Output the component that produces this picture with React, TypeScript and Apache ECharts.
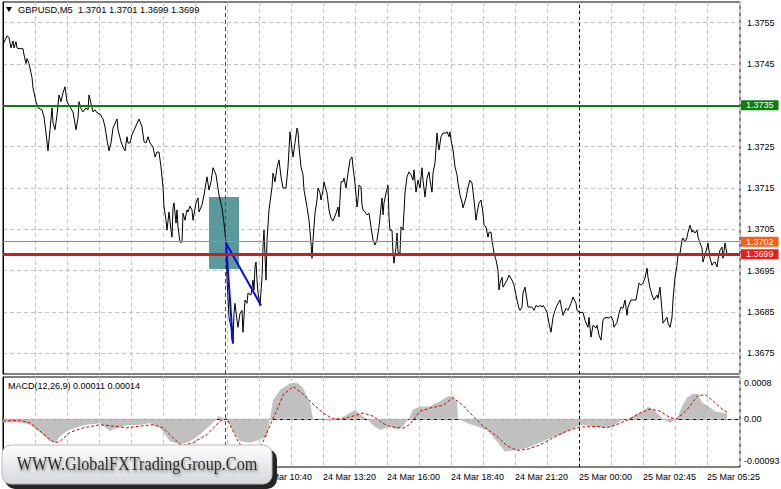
import React, { useEffect, useRef } from "react";
import * as echarts from "echarts";

const FONT = 'Tahoma, "Liberation Sans", Arial, sans-serif';

const symbolTitle = "GBPUSD,M5  1.3701 1.3701 1.3699 1.3699";
const macdTitle = "MACD(12,26,9) 0.00011 0.00014";
const logoText = "WWW.GlobalFXTradingGroup.Com";

const timeLabels = [
  "24 Mar 00:00", "24 Mar 02:40", "24 Mar 05:20", "24 Mar 08:00",
  "24 Mar 10:40", "24 Mar 13:20", "24 Mar 16:00", "24 Mar 18:40",
  "24 Mar 21:20", "25 Mar 00:00", "25 Mar 02:45", "25 Mar 05:25",
];
const barsPerLabel = 32;
const barsPerGrid = 16;
const barMax = 368.5;

const priceMin = 1.367;
const priceMax = 1.376;
const priceStep = 0.0005;

const macdMin = -0.00107;
const macdMax = 0.00093;
const macdTickValues = [0.0008, 0, -0.00093];
const macdTickLabels = ["0.0008", "0.00", "-0.00093"];

const resistanceLevel = 1.3735;
const askLevel = 1.3702;
const bidLevel = 1.3699;
const entryBar = 111;
const dayBreakBar = 288;
const zoneBox = [[103, 1.37128], [118, 1.36954]];
const moveLines = [[115, 1.36774], [111.5, 1.37017], [129, 1.36866]];

const priceData = [
  [0,1.37497],[2,1.37518],[3,1.37514],[4,1.37489],[5,1.37506],[5.5,1.37489],[6.5,1.37504],[7,1.37489],[8,1.37487],[10,1.37487],
  [10.5,1.37472],[11.5,1.37451],[12,1.37463],[13,1.37451],[14.5,1.37417],[15,1.37392],[16.5,1.37359],[17.5,1.37344],[19.5,1.37339],[20.5,1.37322],
  [21.5,1.37283],[22.5,1.3724],[23.5,1.37291],[24.5,1.37344],[25,1.37308],[26,1.37291],[27,1.37327],[28,1.37375],[29,1.37359],[30,1.3738],
  [31,1.37395],[32,1.37359],[33.5,1.37346],[35,1.37334],[36.5,1.37291],[37.5,1.3732],[38,1.37359],[39,1.37342],[40,1.37334],[41.5,1.37344],
  [42.5,1.37339],[43,1.37375],[45,1.37334],[46,1.37339],[47,1.37332],[48.5,1.37329],[50,1.37317],[51,1.37298],[52,1.37266],[53,1.3724],
  [54,1.37259],[55,1.37295],[57,1.37317],[57.5,1.37291],[59,1.37262],[60,1.37249],[61,1.3724],[62,1.37274],[62.5,1.37259],[63.5,1.37259],
  [64.5,1.37279],[66,1.37295],[68,1.37317],[69.5,1.37298],[70.5,1.37262],[71.5,1.37259],[72.5,1.37274],[73.5,1.37259],[75,1.37249],[76,1.37225],
  [77,1.37237],[78,1.37237],[79,1.37201],[80,1.37152],[80.5,1.37104],[81.5,1.37072],[82,1.37048],[83,1.37092],[84,1.37048],[84.5,1.37031],
  [85,1.37102],[85.5,1.37114],[86.5,1.37065],[87,1.37097],[87.5,1.37056],[88.5,1.37019],[89.5,1.37019],[90,1.37089],[91,1.37072],[92,1.37097],
  [92.5,1.37092],[93.5,1.37106],[94.5,1.37097],[95,1.37072],[96.5,1.37114],[97.5,1.37126],[98,1.37092],[99.5,1.37109],[100.5,1.37133],[102,1.37177],
  [103,1.37145],[104,1.37165],[105,1.37199],[106.5,1.37182],[107,1.37165],[108,1.37133],[109.5,1.37102],[110.5,1.37065],[111.5,1.37017],[112,1.36927],
  [112.5,1.36886],[113,1.36837],[114,1.36813],[114.5,1.36782],[115,1.36774],[115.5,1.36847],[116,1.36871],[117,1.3683],[117.5,1.36813],[118.5,1.36847],
  [119.5,1.36854],[120,1.36801],[121,1.36879],[122,1.36871],[122.5,1.36896],[124,1.36891],[125,1.36927],[125.5,1.36903],[126,1.36959],[126.5,1.36971],
  [127,1.36927],[127.5,1.36896],[128.5,1.36866],[129.5,1.36934],[130,1.37007],[130.5,1.37048],[131.5,1.36927],[132,1.37024],[133,1.37097],[134.5,1.37152],
  [135,1.37186],[136,1.37165],[137,1.37199],[138,1.37218],[139,1.37177],[140,1.3715],[141.5,1.3715],[142.5,1.37201],[143.5,1.37286],[144.5,1.37242],
  [145,1.37225],[146,1.37259],[147,1.37295],[147.5,1.37286],[148,1.37249],[149,1.37201],[150,1.37182],[150.5,1.37145],[152,1.37104],[153,1.37072],
  [154,1.37017],[154.5,1.3698],[155,1.37024],[156,1.37089],[157,1.37121],[157.5,1.3715],[158.5,1.37138],[159,1.37121],[160,1.37145],[160.5,1.37165],
  [161.5,1.37145],[162,1.37138],[163,1.37097],[164,1.37077],[165,1.3707],[166.5,1.37089],[167.5,1.37104],[168,1.3708],[169,1.37165],[170,1.37165],
  [170.5,1.37174],[171.5,1.3715],[172,1.37169],[173.5,1.37218],[174.5,1.37225],[175,1.37201],[176,1.37162],[177,1.37104],[177.5,1.37121],[178,1.37157],
  [179,1.37152],[179.5,1.37109],[180,1.37097],[181,1.37092],[182,1.37085],[183,1.37089],[184,1.37056],[185,1.37024],[186,1.37012],[187,1.37024],
  [188,1.37056],[189,1.37104],[189.5,1.37126],[190,1.37085],[190.5,1.37114],[191.5,1.37138],[192.5,1.37157],[193,1.3708],[193.5,1.37048],[194.5,1.37048],
  [195,1.36992],[195.5,1.36968],[196.5,1.37007],[197,1.37041],[197.5,1.36995],[198.5,1.36992],[199,1.37056],[200,1.37048],[201,1.37138],[202,1.37177],
  [203,1.37189],[204,1.37182],[205,1.37169],[205.5,1.37194],[206.5,1.3714],[207.5,1.37169],[208.5,1.3715],[209.5,1.37199],[210,1.37169],[211,1.37128],
  [212,1.37174],[213,1.37189],[213.5,1.37169],[214.5,1.3714],[215,1.37186],[216,1.37211],[217,1.37283],[217.5,1.37259],[218,1.37242],[219,1.37274],
  [220,1.37283],[221.5,1.37283],[222,1.37286],[223,1.37274],[223.5,1.37286],[224,1.37266],[225,1.37242],[226,1.37201],[227,1.37182],[227.5,1.37162],
  [228.5,1.37133],[229.5,1.37116],[230,1.37102],[231.5,1.37126],[232.5,1.37152],[233.5,1.37169],[234.5,1.37162],[235.5,1.37121],[236.5,1.37072],[237,1.37089],
  [238,1.37114],[239,1.37121],[240,1.37089],[240.5,1.3706],[241.5,1.37056],[242.5,1.37031],[243,1.37043],[244,1.37043],[244.5,1.37024],[245.5,1.36992],
  [246.5,1.36976],[247.5,1.36951],[248,1.36903],[248.5,1.3692],[249.5,1.36934],[250,1.3691],[252,1.36927],[253,1.36939],[254.5,1.36927],[255.5,1.36915],
  [257,1.36879],[258,1.36859],[258.5,1.36854],[259.5,1.36862],[260,1.36896],[261,1.3691],[262,1.36879],[262.5,1.36862],[264.5,1.36862],[265.5,1.36854],
  [266.5,1.36866],[267.5,1.36862],[268.5,1.36866],[269.5,1.36862],[270,1.36866],[271,1.36859],[272,1.36849],[273,1.36823],[274,1.36801],[275,1.36837],
  [276,1.36854],[277,1.36866],[278.5,1.36879],[279.5,1.36854],[280,1.36842],[281.5,1.36859],[282.5,1.36854],[284,1.36871],[285,1.36886],[286.5,1.36871],
  [287,1.36854],[288.5,1.36849],[290,1.36849],[291,1.3683],[292.5,1.36813],[293,1.36837],[294,1.36789],[295,1.36818],[296.5,1.36811],[297,1.36818],
  [298,1.36794],[299,1.36782],[300,1.3683],[300.5,1.36835],[302,1.36837],[303,1.36835],[304,1.3684],[305,1.3683],[305.5,1.36813],[307,1.36825],
  [308,1.36847],[309,1.36862],[310,1.36859],[311,1.36879],[312,1.36842],[312.5,1.36862],[314,1.36879],[315,1.36879],[316.5,1.36879],[318,1.3692],
  [319,1.36915],[320,1.3692],[321,1.36932],[322,1.36956],[322.5,1.36934],[323.5,1.36908],[324.5,1.36891],[325.5,1.36879],[327,1.36891],[327.5,1.36883],
  [328.5,1.3691],[329.5,1.36854],[330,1.36823],[331,1.3683],[332,1.36837],[332.5,1.36823],[333.5,1.36813],[334.5,1.36837],[335,1.36879],[336,1.36934],
  [337,1.36963],[337.5,1.36988],[338.5,1.36992],[339.5,1.37024],[340,1.37029],[341,1.37019],[342,1.37031],[342.5,1.37043],[343.5,1.3706],[344.5,1.37043],
  [345,1.37048],[346,1.37041],[347,1.37048],[347.5,1.37031],[348.5,1.37017],[349.5,1.37005],[350,1.36971],[351,1.36988],[352,1.37007],[352.5,1.37017],
  [353.5,1.3698],[354.5,1.36963],[355,1.36968],[356,1.36971],[357,1.36959],[357.5,1.36976],[358.5,1.37],[359.5,1.37007],[360,1.3698],[361,1.37017],
  [362,1.3699],
];

const macdHist = [
  [0,-0.00008],[8.5,-0.00008],[13.5,-0.00013],[18.5,-0.0003],[23.5,-0.0005],[26,-0.00053],[28.5,-0.00039],[32,-0.00027],[37,-0.00018],[42,-0.00013],
  [48.5,-0.0001],[53.5,-0.00027],[57,-0.0002],[62,-0.00015],[68.5,-0.00013],[73.5,-0.0001],[78.5,-0.0002],[83.5,-0.0005],[88.5,-0.00057],[93.5,-0.0005],
  [98.5,-0.00035],[103.5,-0.00015],[107,0],[107.5,0.00007],[109.5,0.00003],[112,0],[115,-0.00027],[118.5,-0.0005],[123.5,-0.00053],[128.5,-0.00046],
  [132,-0.0004],[133.5,0],[135,0.00042],[138.5,0.00064],[143.5,0.00079],[147,0.0008],[150,0.00069],[153.5,0.00036],[155,0],[158.5,0],
  [163.5,-0.00005],[168.5,0],[173.5,0.00013],[176,0.0002],[178.5,0.0001],[182,0],[185,-0.00015],[188.5,-0.00025],[193.5,-0.00017],[197,-0.00024],
  [200,-0.00017],[203.5,0.00006],[205,0.00021],[208.5,0.00027],[213.5,0.00028],[218.5,0.00039],[222.5,0.0005],[225,0.0005],[227,0.00036],[227.5,0],
  [232,-0.00009],[237,-0.00017],[242,-0.00025],[247,-0.0005],[251,-0.00073],[255,-0.0007],[260,-0.00067],[265,-0.0006],[270,-0.0005],[275,-0.0004],
  [280,-0.00033],[287,-0.00017],[290,-0.00013],[295,-0.00017],[300,-0.0002],[305,-0.00017],[308.5,-0.00005],[312,0],[315,0.00006],[320,0.00017],
  [322.5,0.00027],[325,0.0002],[327,0.00013],[330,0],[333.5,-0.00009],[337,0],[339.5,0.00028],[342,0.00047],[345,0.00056],[347.5,0.00055],
  [349.5,0.00036],[352,0.0003],[356,0.00017],[360,0.00013],[362,0.00013],
];

const macdSignal = [
  [0,-0.00005],[8.5,-0.00003],[13.5,-0.00009],[18.5,-0.00027],[23.5,-0.00046],[26,-0.00053],[28.5,-0.0005],[33.5,-0.0003],[40,-0.0002],[48.5,-0.00013],
  [55,-0.00016],[62,-0.0002],[68.5,-0.00016],[75,-0.00013],[80,-0.0002],[85,-0.00042],[89.5,-0.0006],[95,-0.00053],[102,-0.00035],[108.5,-0.00005],
  [112,0],[115,-0.00027],[117.5,-0.0005],[122.5,-0.0008],[127.5,-0.0007],[130,-0.0005],[133.5,-0.00015],[137,0.0002],[140,0.00053],[145,0.00072],
  [150,0.00055],[155,0.00033],[160,0.00013],[165,0],[170,0],[175,0.00006],[180,0.00013],[185,0.00006],[190,-0.0001],[193.5,-0.00017],
  [200,-0.00021],[203.5,-0.00012],[208.5,0.00017],[213.5,0.00024],[220,0.0003],[225,0.00047],[230,0.0003],[235,0.00006],[240,-0.00016],[247,-0.00039],
  [252,-0.0006],[257,-0.0007],[262,-0.00068],[268.5,-0.00058],[275,-0.00042],[282,-0.00027],[288.5,-0.00018],[297,-0.00017],[302,-0.0002],[308.5,-0.0001],
  [313.5,0],[318.5,0.00013],[323.5,0.00022],[328.5,0.00017],[333.5,0.00003],[337,0],[342,0.0002],[347,0.0005],[351,0.00054],[355,0.0004],
  [360,0.0002],[362,0.00015],
];

const gridDash = [4, 3];

function buildOption(): any {
  const xCommon = {
    type: "value",
    min: 0,
    max: barMax,
    interval: barsPerGrid,
    axisTick: { show: false },
    splitLine: { show: true, lineStyle: { color: "#c4c4c4", type: gridDash, width: 1 } },
  };
  const boxedLevels = [resistanceLevel];
  const priceLabel = (v: number) => {
    const k = Math.round(v * 10000);
    if (boxedLevels.some((l) => Math.round(l * 10000) === k)) return "";
    return k % 10 === 5 ? (k / 10000).toFixed(4) : "";
  };
  const levelLabel = (bg: string) => ({
    show: true,
    position: "end",
    distance: 1,
    formatter: (p: any) => Number(p.value).toFixed(4),
    backgroundColor: bg,
    color: "#fff",
    fontFamily: FONT,
    fontSize: 9,
    padding: [1, 5, 0, 5],
  });
  return {
    animation: false,
    backgroundColor: "#ffffff",
    textStyle: { fontFamily: FONT },
    grid: [
      { left: 3, top: 2, width: 737, height: 372, show: true, borderColor: "#000", borderWidth: 1 },
      { left: 3, top: 377, width: 737, height: 90, show: true, borderColor: "#000", borderWidth: 1 },
    ],
    xAxis: [
      { ...xCommon, gridIndex: 0, axisLine: { show: false }, axisLabel: { show: false } },
      {
        ...xCommon,
        gridIndex: 1,
        axisLine: { show: true, lineStyle: { color: "#000" } },
        axisLabel: {
          show: true,
          color: "#000",
          fontFamily: FONT,
          fontSize: 9,
          align: "left",
          margin: 5,
          showMaxLabel: false,
          formatter: (v: number) => {
            const r = Math.round(v);
            if (r % barsPerLabel !== 0) return "";
            return timeLabels[r / barsPerLabel] || "";
          },
        },
      },
    ],
    yAxis: [
      {
        type: "value",
        gridIndex: 0,
        position: "right",
        min: priceMin,
        max: priceMax,
        interval: priceStep,
        axisLine: { show: true, lineStyle: { color: "#000" } },
        axisTick: { show: false },
        axisLabel: { color: "#000", fontFamily: FONT, fontSize: 9, margin: 7, formatter: priceLabel },
        splitLine: { show: true, lineStyle: { color: ["rgba(0,0,0,0)", "#c4c4c4"], type: gridDash } },
      },
      {
        type: "value",
        gridIndex: 1,
        position: "right",
        min: macdMin,
        max: macdMax,
        axisLine: { show: true, lineStyle: { color: "#000" } },
        axisTick: { show: false },
        axisLabel: { show: false },
        splitLine: { show: false },
      },
    ],
    series: [
      {
        name: "zone",
        type: "line",
        xAxisIndex: 0,
        yAxisIndex: 0,
        data: [],
        z: 1,
        markArea: {
          silent: true,
          itemStyle: { color: "#5b9a9c", opacity: 1 },
          data: [[{ coord: zoneBox[0] }, { coord: zoneBox[1] }]],
        },
      },
      {
        name: "levels",
        type: "line",
        xAxisIndex: 0,
        yAxisIndex: 0,
        data: [],
        z: 2,
        markLine: {
          silent: true,
          precision: 6,
          symbol: ["none", "none"],
          data: [
            { yAxis: resistanceLevel, lineStyle: { color: "#0a800a", width: 2, type: "solid" }, label: levelLabel("#0a800a") },
            { yAxis: askLevel, lineStyle: { color: "#f07030", width: 1, type: "solid" }, label: levelLabel("#ff5c14") },
            { yAxis: bidLevel, lineStyle: { color: "#cc1c1c", width: 3, type: "solid" }, label: levelLabel("#f01c1c") },
            { xAxis: entryBar, lineStyle: { color: "#d01010", width: 1, type: [4, 3] }, label: { show: false } },
            { xAxis: dayBreakBar, lineStyle: { color: "#000", width: 1, type: [3, 3] }, label: { show: false } },
          ],
        },
      },
      {
        name: "GBPUSD",
        type: "line",
        xAxisIndex: 0,
        yAxisIndex: 0,
        data: priceData,
        showSymbol: false,
        symbol: "none",
        z: 3,
        lineStyle: { color: "#000", width: 1 },
      },
      {
        name: "moves",
        type: "line",
        xAxisIndex: 0,
        yAxisIndex: 0,
        data: moveLines,
        symbol: "none",
        z: 4,
        lineStyle: { color: "#0a0ae0", width: 2 },
      },
      {
        name: "MACD",
        type: "line",
        xAxisIndex: 1,
        yAxisIndex: 1,
        data: macdHist,
        symbol: "none",
        z: 2,
        lineStyle: { width: 0, color: "#c0c0c0" },
        areaStyle: { color: "#c0c0c0", opacity: 1 },
        markLine: {
          silent: true,
          precision: 6,
          symbol: ["none", "none"],
          data: [
            ...macdTickValues.map((v, i) => ({
              yAxis: v,
              lineStyle: v === 0
                ? { color: "#a8a8a8", width: 1, type: gridDash }
                : { color: "rgba(255,255,255,0)", width: 1, type: "solid" },
              label: {
                show: true,
                position: "end",
                distance: 4,
                formatter: macdTickLabels[i],
                color: "#000",
                fontFamily: FONT,
                fontSize: 9,
              },
            })),
            { xAxis: entryBar, lineStyle: { color: "#d01010", width: 1, type: [4, 3] }, label: { show: false } },
            { xAxis: dayBreakBar, lineStyle: { color: "#000", width: 1, type: [3, 3] }, label: { show: false } },
          ],
        },
      },
      {
        name: "Signal",
        type: "line",
        xAxisIndex: 1,
        yAxisIndex: 1,
        data: macdSignal,
        symbol: "none",
        z: 3,
        lineStyle: { color: "#d40000", width: 1, type: [3, 2] },
      },
    ],
    graphic: [
      {
        type: "polygon",
        z: 100,
        shape: { points: [[6, 7], [12, 7], [9, 12]] },
        style: { fill: "#000" },
      },
      {
        type: "text",
        z: 100,
        x: 18,
        y: 10,
        style: { text: symbolTitle, font: `9.3px ${FONT}`, fill: "#000", textVerticalAlign: "middle" },
      },
      {
        type: "text",
        z: 100,
        x: 8,
        y: 386,
        style: { text: macdTitle, font: `9px ${FONT}`, fill: "#000", textVerticalAlign: "middle" },
      },
      {
        type: "group",
        z: 100,
        children: [
          {
            type: "rect",
            z: 100,
            shape: { x: 5, y: 449, width: 272, height: 40, r: 10 },
            style: { fill: "#262626" },
          },
          {
            type: "rect",
            z: 101,
            shape: { x: 2, y: 445, width: 270, height: 39, r: 9 },
            style: {
              fill: new echarts.graphic.LinearGradient(0, 0, 0, 1, [
                { offset: 0, color: "#fdfdfd" },
                { offset: 1, color: "#d6d9dd" },
              ]),
              stroke: "#b8b8b8",
              lineWidth: 1,
            },
          },
          {
            type: "text",
            z: 102,
            x: 137,
            y: 464,
            scaleX: 0.9,
            style: {
              text: logoText,
              font: `18px "Liberation Serif", "DejaVu Serif", serif`,
              fill: "#2e2e2e",
              textAlign: "center",
              textVerticalAlign: "middle",
              textShadowColor: "rgba(0,0,0,0.45)",
              textShadowBlur: 3,
              textShadowOffsetX: 1,
              textShadowOffsetY: 2,
            },
          },
        ],
      },
    ],
  };
}

export default function App() {
  const ref = useRef<HTMLDivElement>(null);
  useEffect(() => {
    document.body.style.margin = "0";
    const chart = echarts.init(ref.current as HTMLDivElement, null, { renderer: "svg" });
    chart.setOption(buildOption());
    return () => chart.dispose();
  }, []);
  return <div ref={ref} style={{ width: 781, height: 489 }} />;
}
